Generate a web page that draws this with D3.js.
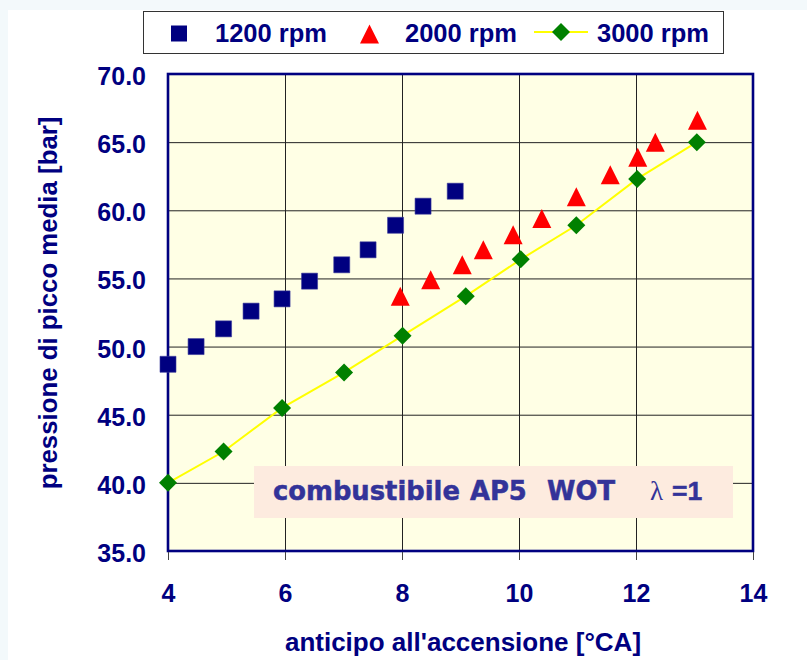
<!DOCTYPE html>
<html><head><meta charset="utf-8">
<script src="https://cdn.jsdelivr.net/npm/d3@7"></script>
<style>
html,body{margin:0;padding:0;background:#f3f9fb;}
svg{display:block;}
</style></head>
<body>
<svg id="chart" width="807" height="660"></svg>
<script>
// ---- data ----
const xTicks = [4, 6, 8, 10, 12, 14];
const yTicks = [35, 40, 45, 50, 55, 60, 65, 70];
const seriesNames = ["1200 rpm", "2000 rpm", "3000 rpm"];
const x1200 = [4.00, 4.48, 4.95, 5.42, 5.95, 6.42, 6.97, 7.42, 7.89, 8.36, 8.91];
const y1200 = [48.7, 50.0, 51.3, 52.6, 53.5, 54.8, 56.0, 57.1, 58.9, 60.3, 61.4];
const x2000 = [7.97, 8.49, 9.03, 9.39, 9.90, 10.39, 10.98, 11.56, 12.03, 12.33, 13.05];
const y2000 = [53.7, 54.9, 56.0, 57.1, 58.2, 59.4, 61.0, 62.6, 63.9, 65.0, 66.6];
const x3000 = [4.00, 4.95, 5.95, 7.01, 8.01, 9.09, 10.03, 10.98, 12.02, 13.04];
const y3000 = [40.0, 42.3, 45.5, 48.1, 50.8, 53.7, 56.4, 58.9, 62.3, 65.0];
const xTitle = "anticipo all'accensione [°CA]";
const yTitle = "pressione di picco media [bar]";
const noteParts = ["combustibile", "AP5", "WOT", "λ", "=1"];

const navy = "#000080";
const svg = d3.select("#chart");

// page background
svg.append("rect").attr("x", 8).attr("y", 10).attr("width", 799).attr("height", 650).attr("fill", "#ffffff");

const x = d3.scaleLinear().domain([4, 14]).range([168, 753]);
const y = d3.scaleLinear().domain([35, 70]).range([551, 74]);

// plot background
svg.append("rect")
  .attr("x", x(4)).attr("y", y(70))
  .attr("width", x(14) - x(4)).attr("height", y(35) - y(70))
  .attr("fill", "#ffffe5");

// grid
svg.append("g").attr("transform", `translate(0,${y(35)})`)
  .call(d3.axisBottom(x).tickValues(xTicks.slice(1, -1)).tickSize(-(y(35) - y(70))).tickFormat(""))
  .call(g => g.select(".domain").remove())
  .call(g => g.selectAll("line").attr("stroke", "#222").attr("stroke-width", 1));
svg.append("g").attr("transform", `translate(${x(4)},0)`)
  .call(d3.axisLeft(y).tickValues(yTicks.slice(1, -1)).tickSize(-(x(14) - x(4))).tickFormat(""))
  .call(g => g.select(".domain").remove())
  .call(g => g.selectAll("line").attr("stroke", "#222").attr("stroke-width", 1));

// note box
const nb = svg.append("g");
nb.append("rect").attr("x", 254).attr("y", 466).attr("width", 479).attr("height", 52).attr("fill", "#fdebdf");
const noteX = [273, 470, 547, 650, 672];
const noteFont = ["DejaVu Sans", "DejaVu Sans", "DejaVu Sans", "Liberation Serif", "Liberation Sans"];
const noteWeight = ["bold", "bold", "bold", "normal", "bold"];
noteParts.forEach((t, i) => {
  nb.append("text").attr("x", noteX[i]).attr("y", 500)
    .attr("font-family", noteFont[i]).attr("font-weight", noteWeight[i])
    .attr("font-size", i === 3 ? 27 : (i === 4 ? 26.5 : 25.8))
    .attr("fill", "#333399")
    .attr("stroke", i === 3 ? "none" : "#333399").attr("stroke-width", 0.5)
    .text(t);
});

// frame
svg.append("rect")
  .attr("x", x(4)).attr("y", y(70))
  .attr("width", x(14) - x(4)).attr("height", y(35) - y(70))
  .attr("fill", "none").attr("stroke", navy).attr("stroke-width", 2.6);

// x axis
svg.append("g").attr("transform", `translate(0,${y(35) + 1})`)
  .call(d3.axisBottom(x).tickValues(xTicks).tickSize(8).tickPadding(24).tickFormat(d3.format("d")))
  .call(g => g.select(".domain").remove())
  .call(g => g.selectAll("line").attr("stroke", "#444"))
  .call(g => g.selectAll("text").attr("font-family", "Liberation Sans, Arial, sans-serif")
      .attr("font-weight", "bold").attr("font-size", 25).attr("fill", navy));

// y axis
svg.append("g").attr("transform", `translate(${x(4)},0)`)
  .call(d3.axisLeft(y).tickValues(yTicks).tickSize(0).tickPadding(22).tickFormat(d3.format(".1f")))
  .call(g => g.select(".domain").remove())
  .call(g => g.selectAll("text").attr("dy", "0.42em").attr("font-family", "Liberation Sans, Arial, sans-serif")
      .attr("font-weight", "bold").attr("font-size", 25).attr("fill", navy));

// titles
svg.append("text").attr("x", 463).attr("y", 651).attr("text-anchor", "middle")
  .attr("font-family", "Liberation Sans, Arial, sans-serif").attr("font-weight", "bold")
  .attr("font-size", 26).attr("fill", navy).text(xTitle);
svg.append("text").attr("transform", "translate(57,303) rotate(-90)").attr("text-anchor", "middle")
  .attr("font-family", "Liberation Sans, Arial, sans-serif").attr("font-weight", "bold")
  .attr("font-size", 25.8).attr("fill", navy).text(yTitle);

// symbol types
const triSym = { draw(ctx, size) { const h = Math.sqrt(size); const w = h * 1.0;
  ctx.moveTo(0, -h / 2); ctx.lineTo(w / 2, h / 2); ctx.lineTo(-w / 2, h / 2); ctx.closePath(); } };
const diaSym = { draw(ctx, size) { const r = Math.sqrt(size) / 2;
  ctx.moveTo(0, -r); ctx.lineTo(r, 0); ctx.lineTo(0, r); ctx.lineTo(-r, 0); ctx.closePath(); } };

// 3000 rpm line
const d3000 = x3000.map((v, i) => [v, y3000[i]]);
svg.append("path").datum(d3000)
  .attr("d", d3.line().x(d => x(d[0])).y(d => y(d[1])))
  .attr("fill", "none").attr("stroke", "#ffff00").attr("stroke-width", 2);

// markers
const d1200 = x1200.map((v, i) => [v, y1200[i]]);
const d2000 = x2000.map((v, i) => [v, y2000[i]]);
svg.append("g").selectAll("path").data(d1200).join("path")
  .attr("transform", d => `translate(${x(d[0])},${y(d[1])})`)
  .attr("d", d3.symbol(d3.symbolSquare, 256))
  .attr("fill", navy).attr("stroke", "#3a3a9a").attr("stroke-width", 0.6);
svg.append("g").selectAll("path").data(d2000).join("path")
  .attr("transform", d => `translate(${x(d[0])},${y(d[1])})`)
  .attr("d", d3.symbol(triSym, 361)).attr("fill", "#ff0000");
svg.append("g").selectAll("path").data(d3000).join("path")
  .attr("transform", d => `translate(${x(d[0])},${y(d[1])})`)
  .attr("d", d3.symbol(diaSym, 324)).attr("fill", "#008000");

// legend
const lg = svg.append("g");
lg.append("rect").attr("x", 143.5).attr("y", 11.5).attr("width", 580).attr("height", 42)
  .attr("fill", "#ffffff").attr("stroke", "#333").attr("stroke-width", 1);
lg.append("path").attr("transform", "translate(179,33.5)").attr("d", d3.symbol(d3.symbolSquare, 256)()).attr("fill", navy);
lg.append("path").attr("transform", "translate(369.5,34)").attr("d", d3.symbol(triSym, 361)()).attr("fill", "#ff0000");
lg.append("line").attr("x1", 534).attr("x2", 588).attr("y1", 32).attr("y2", 32).attr("stroke", "#ffff00").attr("stroke-width", 2);
lg.append("path").attr("transform", "translate(561,32)").attr("d", d3.symbol(diaSym, 324)()).attr("fill", "#008000");
const legX = [215, 405, 597];
seriesNames.forEach((n, i) => {
  lg.append("text").attr("x", legX[i]).attr("y", 41.5)
    .attr("font-family", "Liberation Sans, Arial, sans-serif").attr("font-weight", "bold")
    .attr("font-size", 25.5).attr("fill", navy).text(n);
});
</script>
</body></html>
